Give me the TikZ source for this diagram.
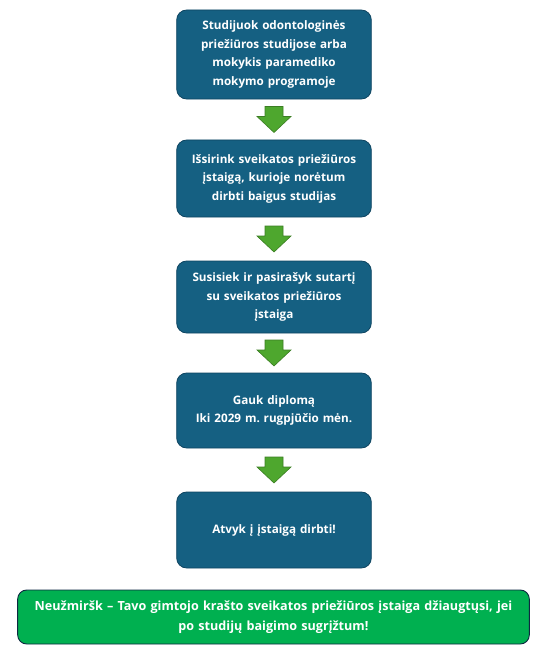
\documentclass[tikz,border=0pt]{standalone}
\usepackage{fontspec}
\setmainfont{Open Sans}
\frenchspacing
\usetikzlibrary{shapes, positioning, calc}
\definecolor{stepblue}{HTML}{156082}
\definecolor{stepedge}{HTML}{0F4561}
\definecolor{arrowgreen}{HTML}{4EA72E}
\definecolor{arrowedge}{HTML}{3B7D23}
\definecolor{notegreen}{HTML}{00B050}
\definecolor{noteedge}{HTML}{0E2841}
\tikzstyle{stepbox} = [rectangle, rounded corners=10bp, draw=stepedge, line width=0.8bp, fill=stepblue, text=white, minimum width=192bp, text width=188bp, align=center, font=\bfseries\fontsize{11.7bp}{18.5bp}\selectfont]
\tikzstyle{down} = [draw=arrowedge, line width=0.6bp, fill=arrowgreen, line join=miter]
\tikzstyle{note} = [rectangle, rounded corners=9bp, draw=noteedge, line width=0.9bp, fill=notegreen, text=white, minimum width=509bp, minimum height=54bp, text width=505bp, align=center, font=\bfseries\fontsize{12.6bp}{20bp}\selectfont]
\tikzset{pics/blockarrow/.style={code={
  \draw[down] (-9,-13) -- (9,-13) -- (9,-3) -- (17,-3) -- (0,13) -- (-17,-3) -- (-9,-3) -- cycle;
}}}

\begin{document}
\begin{tikzpicture}[x=1bp, y=-1bp]
  \useasboundingbox (0,0) rectangle (544,657);

  % Steps
  \node[stepbox, minimum height=89bp] (S1) at (274,54.5) {Studijuok odontologinės\\priežiūros studijose arba\\mokykis paramediko\\mokymo programoje};
  \node[stepbox, minimum height=77bp] (S2) at (274,178.5) {Išsirink sveikatos priežiūros\\įstaigą, kurioje norėtum\\dirbti baigus studijas};
  \node[stepbox, minimum height=72bp] (S3) at (274,297) {Susisiek ir pasirašyk sutartį\\su sveikatos priežiūros\\įstaiga};
  \node[stepbox, minimum height=75bp] (S4) at (274,410.5) {Gauk diplomą\\Iki 2029 m. rugpjūčio mėn.};
  \node[stepbox, minimum height=76bp] (S5) at (274,530) {Atvyk į įstaigą dirbti!};

  % Green arrows
  \pic at ($(S1.south)!0.5!(S2.north)$) {blockarrow};
  \pic at ($(S2.south)!0.5!(S3.north)$) {blockarrow};
  \pic at ($(S3.south)!0.5!(S4.north)$) {blockarrow};
  \pic at ($(S4.south)!0.5!(S5.north)$) {blockarrow};

  % Reminder
  \node[note] (N) at (273.5,617) {Neužmiršk – Tavo gimtojo krašto sveikatos priežiūros įstaiga džiaugtųsi, jei\\po studijų baigimo sugrįžtum!};
\end{tikzpicture}
\end{document}
